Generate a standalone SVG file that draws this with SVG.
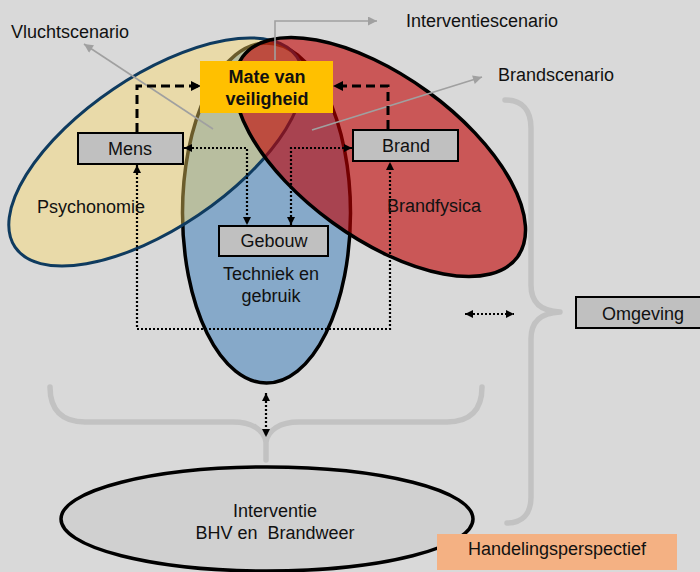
<svg xmlns="http://www.w3.org/2000/svg" width="700" height="572" viewBox="0 0 700 572">
<style>
text{font-family:"Liberation Sans",Arial,sans-serif;font-size:18px;fill:#111}
.c{text-anchor:middle}
.box{fill:#c0c0c0;stroke:#000;stroke-width:2}
.brace{fill:none;stroke:#c2c2c2;stroke-width:5.5;stroke-linecap:round;stroke-linejoin:round}
.gray{fill:none;stroke:#a0a0a0;stroke-width:1.6}
.dash{fill:none;stroke:#000;stroke-width:3;stroke-dasharray:9 5}
.dot{fill:none;stroke:#000;stroke-width:2.2;stroke-dasharray:2 2}
</style>
<defs>
<marker id="ab" viewBox="0 0 10 10" refX="10" refY="5" markerWidth="10" markerHeight="10" markerUnits="userSpaceOnUse" orient="auto-start-reverse"><path d="M0,0 L10,5 L0,10 z" fill="#000"/></marker>
<marker id="as" viewBox="0 0 10 10" refX="10" refY="5" markerWidth="8" markerHeight="8" markerUnits="userSpaceOnUse" orient="auto-start-reverse"><path d="M0,0 L10,5 L0,10 z" fill="#000"/></marker>
<marker id="ag" viewBox="0 0 10 10" refX="10" refY="5" markerWidth="11" markerHeight="9" markerUnits="userSpaceOnUse" orient="auto"><path d="M0,0 L10,5 L0,10 z" fill="#a0a0a0"/></marker>
</defs>
<rect width="700" height="572" fill="#d9d9d9"/>

<g id="braces">
<path class="brace" d="M50,387 C50,410 62,422 85,422 L233,422 C252,422 264,430 266,442 L266,460 M482,387 C482,410 470,422 447,422 L299,422 C280,422 268,430 266,442"/>
<path class="brace" d="M505,100 C522,100 531,110 531,128 L531,285 C531,302 540,311 560,312 C540,313 531,322 531,339 L531,497 C531,514 522,523 507,523"/>
</g>

<g id="techniek">
<ellipse cx="266.5" cy="213" rx="84" ry="170" fill="#86a9c9" stroke="#000" stroke-width="3.5"/>
</g>
<g id="psychonomie">
<ellipse cx="156" cy="152" rx="170" ry="76" transform="rotate(-34 156 152)" fill="#ffdb67" fill-opacity="0.42" stroke="#0f3b5f" stroke-width="3"/>
</g>
<g id="brandfysica">
<ellipse cx="380" cy="157" rx="170" ry="81" transform="rotate(36 380 157)" fill="#c00000" fill-opacity="0.6" stroke="#000" stroke-width="3.5"/>
</g>

<g id="interventie">
<ellipse cx="267" cy="519" rx="206" ry="52" fill="#d0d0d0" stroke="#000" stroke-width="3.5"/>
<text class="c" x="275" y="517">Interventie</text>
<text class="c" x="275" y="539" xml:space="preserve">BHV en  Brandweer</text>
</g>

<g id="connectors">
<path class="gray" d="M213,129 L84,44" marker-end="url(#ag)"/>
<path class="gray" d="M275,60 L275,21 L377,21" marker-end="url(#ag)"/>
<path class="gray" d="M312,130 L482,77" marker-end="url(#ag)"/>
<path class="dash" d="M137,132 L137,86 L201,86" marker-end="url(#ab)"/>
<path class="dash" d="M388,129 L388,86 L333,86" marker-end="url(#ab)"/>
<path class="dot" d="M184,148 L247,148 L247,225" marker-start="url(#as)" marker-end="url(#as)"/>
<path class="dot" d="M352,148 L291,148 L291,225" marker-start="url(#as)" marker-end="url(#as)"/>
<path class="dot" d="M137,165 L137,329 L390,329 L390,162" marker-start="url(#as)" marker-end="url(#as)"/>
<path class="dot" d="M465,314 L514,314" marker-start="url(#as)" marker-end="url(#as)"/>
<path class="dot" d="M266,393 L266,437" marker-start="url(#as)" marker-end="url(#as)"/>
</g>

<g id="mate">
<rect x="200" y="61" width="133" height="52" fill="#ffc000"/>
<text class="c" x="267" y="83" font-weight="bold">Mate van</text>
<text class="c" x="267" y="105" font-weight="bold">veiligheid</text>
</g>
<g id="mens">
<rect class="box" x="78" y="133" width="105" height="31"/>
<text class="c" x="130" y="155">Mens</text>
</g>
<g id="brand">
<rect class="box" x="353" y="130" width="105" height="31"/>
<text class="c" x="406" y="152">Brand</text>
</g>
<g id="gebouw">
<rect class="box" x="219" y="226" width="109" height="30"/>
<text class="c" x="274" y="247">Gebouw</text>
</g>
<g id="omgeving">
<rect class="box" x="576" y="297" width="134" height="31"/>
<text class="c" x="643" y="320">Omgeving</text>
</g>
<g id="handelingsperspectief">
<rect x="437" y="534" width="240" height="36" fill="#f4b183"/>
<text class="c" x="557" y="555">Handelingsperspectief</text>
</g>

<g id="labels">
<text x="11" y="38">Vluchtscenario</text>
<text x="406" y="27">Interventiescenario</text>
<text x="498" y="81">Brandscenario</text>
<text x="37" y="213">Psychonomie</text>
<text x="387" y="212">Brandfysica</text>
<text class="c" x="271" y="280">Techniek en</text>
<text class="c" x="271" y="302">gebruik</text>
</g>
</svg>
